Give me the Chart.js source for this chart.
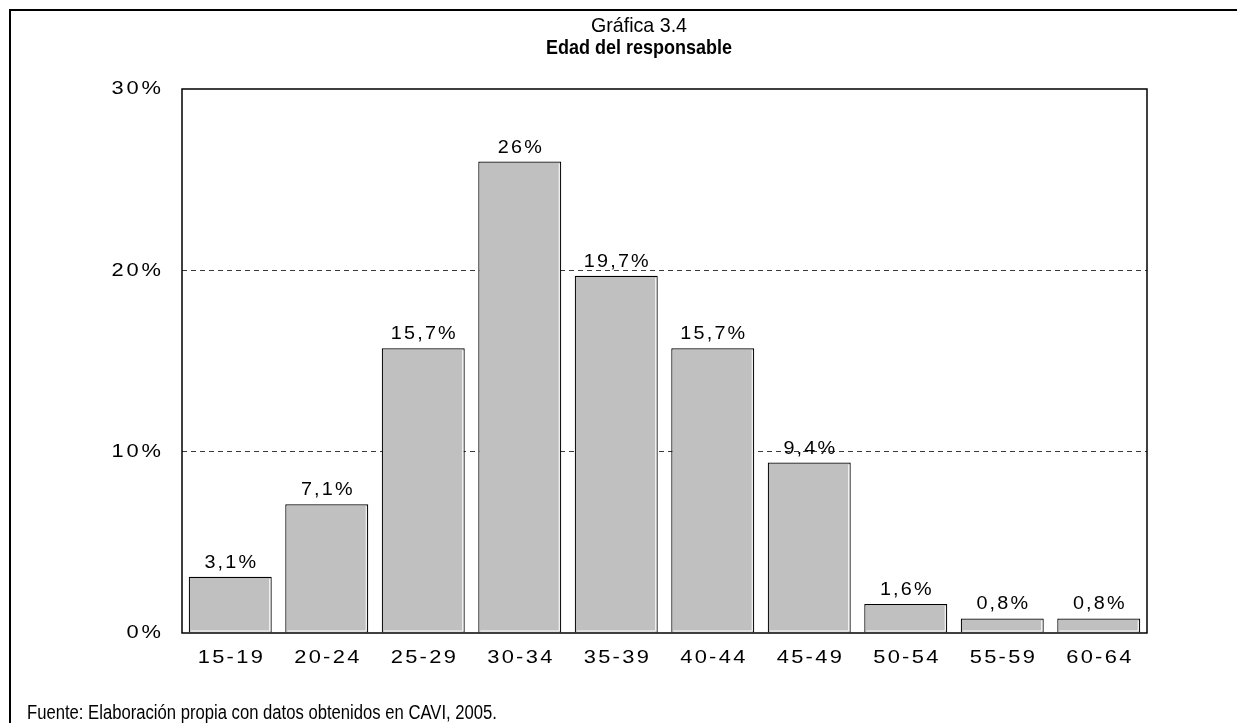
<!DOCTYPE html>
<html lang="es">
<head>
<meta charset="utf-8">
<title>Gráfica 3.4 - Edad del responsable</title>
<script src="https://cdn.jsdelivr.net/npm/chart.js@4.4.1/dist/chart.umd.min.js"></script>
<style>
  html, body { margin: 0; padding: 0; background: #fff; }
  #wrap { position: relative; width: 1237px; height: 723px; }
</style>
</head>
<body>
<div id="wrap"><canvas id="chart" width="1237" height="723"></canvas></div>
<script>
// Age groups of the household head and their share (%)
const categories = ['15-19', '20-24', '25-29', '30-34', '35-39', '40-44', '45-49', '50-54', '55-59', '60-64'];
const shares = [3.1, 7.1, 15.7, 26, 19.7, 15.7, 9.4, 1.6, 0.8, 0.8];
const yTicks = [0, 10, 20, 30];

const titleLine1 = 'Gráfica 3.4';
const titleLine2 = 'Edad del responsable';
const sourceNote = 'Fuente: Elaboración propia con datos obtenidos en CAVI, 2005.';

const FONT = '"Liberation Sans", Arial, sans-serif';
const fmtPct = v => String(v).replace('.', ',') + '%';

// Text drawn with a horizontal stretch factor and extra tracking
function stretchedText(ctx, text, x, y, sx, align, spacing) {
  ctx.save();
  ctx.translate(x, y);
  ctx.scale(sx, 1);
  ctx.letterSpacing = (spacing || 0) + 'px';
  ctx.textAlign = align;
  // the canvas adds tracking after the last glyph too; recentre for that
  const shift = !spacing ? 0 : (align === 'center' ? spacing / 2 : (align === 'right' ? spacing : 0));
  ctx.fillText(text, shift, 0);
  ctx.restore();
}
// Text squeezed/stretched to a given width
function fittedText(ctx, text, x, y, width, align) {
  const w = ctx.measureText(text).width;
  stretchedText(ctx, text, x, y, width / w, align, 0);
}

const framePlugin = {
  id: 'frame',
  beforeDraw(chart) {
    const ctx = chart.ctx;
    ctx.save();
    ctx.strokeStyle = '#000';
    ctx.lineWidth = 2;
    ctx.beginPath();
    ctx.moveTo(10, 723);
    ctx.lineTo(10, 10);
    ctx.lineTo(1237, 10);
    ctx.stroke();

    ctx.fillStyle = '#000';
    ctx.textBaseline = 'alphabetic';
    ctx.font = '21px ' + FONT;
    fittedText(ctx, titleLine1, 639, 32, 96, 'center');
    ctx.font = 'bold 21px ' + FONT;
    fittedText(ctx, titleLine2, 639, 54, 186, 'center');

    ctx.font = '20px ' + FONT;
    fittedText(ctx, sourceNote, 27, 719, 470, 'left');
    ctx.restore();
  },
  afterDatasetsDraw(chart) {
    const ctx = chart.ctx;
    const meta = chart.getDatasetMeta(0);
    ctx.save();
    // light edge on the right/bottom of each bar
    ctx.strokeStyle = '#fff';
    ctx.lineWidth = 1;
    meta.data.forEach(bar => {
      const half = bar.width / 2;
      ctx.beginPath();
      ctx.moveTo(bar.x + half - 2, bar.y + 2);
      ctx.lineTo(bar.x + half - 2, bar.base - 1.5);
      ctx.lineTo(bar.x - half + 2, bar.base - 1.5);
      ctx.stroke();
    });
    ctx.restore();
  },
  afterDraw(chart) {
    const a = chart.chartArea;
    const ctx = chart.ctx;
    ctx.save();
    ctx.strokeStyle = '#000';
    ctx.lineWidth = 1.5;
    ctx.strokeRect(a.left, a.top, a.right - a.left, a.bottom - a.top);

    // axis labels at the scales' tick positions
    ctx.fillStyle = '#000';
    ctx.font = '19px ' + FONT;
    ctx.textBaseline = 'middle';
    const xs = chart.scales.x;
    xs.ticks.forEach((t, i) => {
      stretchedText(ctx, categories[i], xs.getPixelForTick(i), 658, 1.15, 'center', 2);
    });
    const ys = chart.scales.y;
    ys.ticks.forEach((t, i) => {
      stretchedText(ctx, t.value + '%', 161, ys.getPixelForTick(i), 1.15, 'right', 2.5);
    });

    // value labels above the bars
    const meta = chart.getDatasetMeta(0);
    ctx.font = '18px ' + FONT;
    ctx.textBaseline = 'alphabetic';
    meta.data.forEach((bar, i) => {
      stretchedText(ctx, fmtPct(shares[i]), bar.x, bar.y - 9, 1.1, 'center', 2);
    });
    ctx.restore();
  }
};

new Chart(document.getElementById('chart'), {
  type: 'bar',
  data: {
    labels: categories,
    datasets: [{
      data: shares,
      backgroundColor: '#c0c0c0',
      borderColor: '#000',
      borderWidth: 1.2,
      barPercentage: 0.86,
      categoryPercentage: 1.0
    }]
  },
  options: {
    responsive: false,
    animation: false,
    devicePixelRatio: 1,
    layout: { padding: { top: 89, right: 90, left: 0, bottom: 0 } },
    plugins: {
      legend: { display: false },
      title: { display: false },
      tooltip: { enabled: false }
    },
    scales: {
      x: {
        grid: { display: false, drawTicks: false },
        border: { display: false },
        ticks: { display: false },
        afterFit(scale) { scale.height = 90; }
      },
      y: {
        min: 0,
        max: 30,
        afterBuildTicks(scale) { scale.ticks = yTicks.map(v => ({ value: v })); },
        grid: {
          drawTicks: false,
          lineWidth: 1,
          color: c => (c.tick && c.tick.value > 0 && c.tick.value < 30) ? '#3a3a3a' : 'rgba(0,0,0,0)'
        },
        border: { display: false, dash: [5, 4] },
        ticks: { display: false },
        afterFit(scale) { scale.width = 182; }
      }
    }
  },
  plugins: [framePlugin]
});
</script>
</body>
</html>
